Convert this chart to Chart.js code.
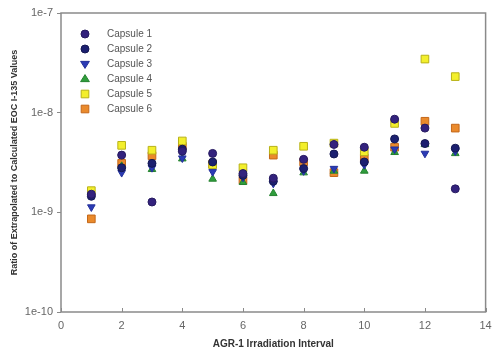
<!DOCTYPE html>
<html>
<head>
<meta charset="utf-8">
<script src="https://cdn.jsdelivr.net/npm/chart.js@4.4.1/dist/chart.umd.min.js"></script>
<style>
  html, body { margin: 0; padding: 0; background: #fff; }
  #wrap { width: 492px; height: 354px; }
</style>
</head>
<body>
<div id="wrap"><canvas id="myChart" width="492" height="354"></canvas></div>
<script>
// AGR-1 irradiation intervals
var intervals = [1, 2, 3, 4, 5, 6, 7, 8, 9, 10, 11, 12, 13];

// ratio values (null = no point)
var capsule1 = [1.52e-9, 3.75e-9, 1.27e-9, 4.1e-9, 3.9e-9, 2.45e-9, 2.2e-9, 3.4e-9, 4.8e-9, 4.5e-9, 8.6e-9, 7.0e-9, 1.72e-9];
var capsule2 = [1.45e-9, 2.8e-9, 3.1e-9, 4.3e-9, 3.2e-9, 2.35e-9, 2.05e-9, 2.75e-9, 3.85e-9, 3.2e-9, 5.45e-9, 4.9e-9, 4.4e-9];
var capsule3 = [1.13e-9, 2.5e-9, 2.8e-9, 3.5e-9, 2.55e-9, 2.25e-9, 1.95e-9, 2.6e-9, 2.75e-9, 3.0e-9, 4.3e-9, 3.9e-9, 4.1e-9];
var capsule4 = [null, 2.9e-9, 2.7e-9, 3.45e-9, 2.16e-9, 2.0e-9, 1.55e-9, 2.5e-9, 2.6e-9, 2.6e-9, 4.0e-9, 4.8e-9, 3.9e-9];
var capsule5 = [1.65e-9, 4.7e-9, 4.2e-9, 5.2e-9, 3.0e-9, 2.8e-9, 4.2e-9, 4.6e-9, 4.95e-9, 4.05e-9, 7.8e-9, 3.45e-8, 2.3e-8];
var capsule6 = [8.6e-10, 3.1e-9, 3.7e-9, 4.6e-9, 3.05e-9, 2.1e-9, 3.75e-9, 3.2e-9, 2.5e-9, 3.5e-9, 4.5e-9, 8.2e-9, 7.0e-9];

var xTicks = [0, 2, 4, 6, 8, 10, 12, 14];
var yTicks = [1e-10, 1e-9, 1e-8, 1e-7];
var yLabels = ["1e-10", "1e-9", "1e-8", "1e-7"];

function toPoints(values) {
    var pts = [];
    for (var i = 0; i < intervals.length; i++) {
        if (values[i] !== null) pts.push({ x: intervals[i], y: values[i] });
    }
    return pts;
}

var datasets = [
    { label: "Capsule 1", data: toPoints(capsule1), pointStyle: "circle", pointRadius: 4, backgroundColor: "#33227d", borderColor: "#261a60", pointRotation: 0 },
    { label: "Capsule 2", data: toPoints(capsule2), pointStyle: "circle", pointRadius: 4, backgroundColor: "#1c2070", borderColor: "#141852", pointRotation: 0 },
    { label: "Capsule 3", data: toPoints(capsule3), pointStyle: "triangle", pointRadius: 4.4, backgroundColor: "#2b3bb5", borderColor: "#23309a", pointRotation: 180 },
    { label: "Capsule 4", data: toPoints(capsule4), pointStyle: "triangle", pointRadius: 4.4, backgroundColor: "#2f9d3c", borderColor: "#25822f", pointRotation: 0 },
    { label: "Capsule 5", data: toPoints(capsule5), pointStyle: "rect", pointRadius: 5.4, backgroundColor: "#f3ef2c", borderColor: "#b8b218", pointRotation: 0 },
    { label: "Capsule 6", data: toPoints(capsule6), pointStyle: "rect", pointRadius: 5.4, backgroundColor: "#ea8a2c", borderColor: "#c4681a", pointRotation: 0 }
];
datasets.forEach(function(d) {
    d.showLine = false;
    d.borderWidth = 1;
    d.pointHoverRadius = d.pointRadius;
});

// frame, inner x tick marks and in-plot legend
var decor = {
    id: "decor",
    afterDatasetsDraw: function(chart) {
        var ctx = chart.ctx;
        var a = chart.chartArea;
        var xs = chart.scales.x;
        ctx.save();
        ctx.strokeStyle = "#8a8a8a";
        ctx.lineWidth = 1.5;
        ctx.strokeRect(a.left, a.top, a.right - a.left, a.bottom - a.top);
        ctx.lineWidth = 1;
        ctx.beginPath();
        xTicks.forEach(function(t) {
            var px = Math.round(xs.getPixelForValue(t)) + 0.5;
            ctx.moveTo(px, a.bottom);
            ctx.lineTo(px, a.bottom - 4);
        });
        ctx.stroke();

        // legend
        var lx = 85, ly = 34, gap = 15;
        ctx.font = "10px 'Liberation Sans', Arial, sans-serif";
        ctx.textBaseline = "middle";
        chart.data.datasets.forEach(function(d, i) {
            var y = ly + i * gap;
            drawMarker(ctx, d, lx, y);
            ctx.fillStyle = "#555";
            ctx.fillText(d.label, 107, y);
        });
        ctx.restore();
    }
};

function drawMarker(ctx, d, x, y) {
    var r = d.pointRadius;
    ctx.fillStyle = d.backgroundColor;
    ctx.strokeStyle = d.borderColor;
    ctx.lineWidth = 1;
    ctx.beginPath();
    if (d.pointStyle === "circle") {
        ctx.arc(x, y, r, 0, Math.PI * 2);
    } else if (d.pointStyle === "rect") {
        var s = r * Math.SQRT1_2;
        ctx.rect(x - s, y - s, 2 * s, 2 * s);
    } else {
        var w = r * 0.866;
        var dir = d.pointRotation === 180 ? -1 : 1;
        ctx.moveTo(x, y - dir * r);
        ctx.lineTo(x - w * 1.15, y + dir * r * 0.6);
        ctx.lineTo(x + w * 1.15, y + dir * r * 0.6);
        ctx.closePath();
    }
    ctx.fill();
    ctx.stroke();
}

var myChart = new Chart(document.getElementById("myChart").getContext("2d"), {
    type: "scatter",
    data: { datasets: datasets },
    options: {
        responsive: false,
        animation: false,
        devicePixelRatio: 1,
        layout: { padding: { top: 13, right: 6, left: 0, bottom: 0 } },
        plugins: {
            legend: { display: false },
            tooltip: { enabled: false }
        },
        scales: {
            x: {
                type: "linear",
                min: 0,
                max: 14,
                afterBuildTicks: function(scale) {
                    scale.ticks = xTicks.map(function(v) { return { value: v }; });
                },
                afterFit: function(scale) {
                    scale.height = 42;
                    scale.paddingLeft = 0;
                    scale.paddingRight = 0;
                },
                grid: { display: false, drawTicks: false },
                border: { display: false },
                ticks: {
                    color: "#666",
                    padding: 7,
                    font: { size: 11, family: "'Liberation Sans', Arial, sans-serif" }
                },
                title: {
                    display: true,
                    text: "AGR-1 Irradiation Interval",
                    color: "#333",
                    padding: { top: 0, bottom: 4 },
                    font: { size: 10, weight: "bold", family: "'Liberation Sans', Arial, sans-serif" }
                }
            },
            y: {
                type: "logarithmic",
                min: 1e-10,
                max: 1e-7,
                afterBuildTicks: function(scale) {
                    scale.ticks = yTicks.map(function(v) { return { value: v }; });
                },
                afterFit: function(scale) {
                    scale.width = 61;
                    scale.paddingTop = 0;
                    scale.paddingBottom = 0;
                },
                grid: { display: true, drawOnChartArea: false, drawTicks: true, tickLength: 4, color: "#8a8a8a" },
                border: { display: false },
                ticks: {
                    color: "#666",
                    padding: 4,
                    font: { size: 11, family: "'Liberation Sans', Arial, sans-serif" },
                    callback: function(value) {
                        var i = yTicks.indexOf(value);
                        return i >= 0 ? yLabels[i] : "";
                    }
                },
                title: {
                    display: true,
                    text: "Ratio of Extrapolated to Calculated EOC I-135 Values",
                    color: "#333",
                    padding: { top: 9, bottom: 0 },
                    font: { size: 9, weight: "bold", family: "'Liberation Sans', Arial, sans-serif" }
                }
            }
        }
    },
    plugins: [decor]
});
</script>
</body>
</html>
